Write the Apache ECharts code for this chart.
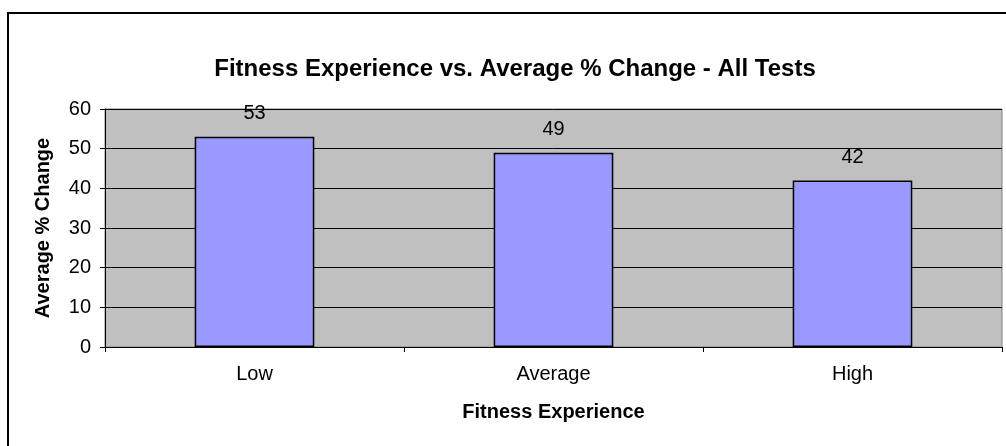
<!DOCTYPE html>
<html>
<head>
<meta charset="utf-8">
<script src="https://cdn.jsdelivr.net/npm/echarts@6/dist/echarts.min.js"></script>
<style>
  html, body { margin: 0; padding: 0; background: #fff; }
  #chart { width: 1006px; height: 446px; }
</style>
</head>
<body>
<div id="chart"></div>
<script>
// Average % change per fitness-experience group
const categories = ['Low', 'Average', 'High'];
const avgChange = [53, 49, 42];
const yTicks = { min: 0, max: 60, step: 10 };

const FONT = 'Arial, "Liberation Sans", sans-serif';

const chart = echarts.init(document.getElementById('chart'), null, { renderer: 'canvas' });

chart.setOption({
  backgroundColor: '#ffffff',
  animation: false,
  textStyle: { fontFamily: FONT },
  title: {
    text: 'Fitness Experience vs. Average % Change - All Tests',
    left: 510,
    textAlign: 'center',
    top: 52,
    textStyle: { fontFamily: FONT, fontSize: 24, fontWeight: 'bold', color: '#000' }
  },
  graphic: [{
    type: 'rect',
    shape: { x: 8, y: 13, width: 1020, height: 460 },
    style: { fill: 'none', stroke: '#000', lineWidth: 2 },
    silent: true,
    z: 100
  }],
  grid: {
    left: 105,
    right: 4,
    top: 109,
    bottom: 99,
    show: true,
    backgroundColor: '#C0C0C0',
    borderColor: '#808080',
    borderWidth: 1
  },
  xAxis: {
    type: 'category',
    data: categories,
    name: 'Fitness Experience',
    nameLocation: 'middle',
    nameGap: 55,
    nameTextStyle: { fontFamily: FONT, fontSize: 20, fontWeight: 'bold', color: '#000' },
    axisLine: { show: true, lineStyle: { color: '#000', width: 1 } },
    axisTick: { show: true, alignWithLabel: false, length: 5, lineStyle: { color: '#000' } },
    axisLabel: { fontFamily: FONT, fontSize: 20, color: '#000', margin: 17 },
    splitLine: { show: false }
  },
  yAxis: {
    type: 'value',
    min: yTicks.min,
    max: yTicks.max,
    interval: yTicks.step,
    name: 'Average % Change',
    nameLocation: 'middle',
    nameRotate: 90,
    nameGap: 52,
    nameTextStyle: { fontFamily: FONT, fontSize: 20, fontWeight: 'bold', color: '#000' },
    axisLine: { show: true, lineStyle: { color: '#000', width: 1 } },
    axisTick: { show: true, length: 5, lineStyle: { color: '#000' } },
    axisLabel: { fontFamily: FONT, fontSize: 20, color: '#000', margin: 14 },
    splitLine: { show: true, lineStyle: { color: '#000', width: 1 } }
  },
  series: [{
    type: 'bar',
    data: avgChange,
    barWidth: '40%',
    itemStyle: { color: '#9999FF', borderColor: '#000', borderWidth: 1.5 },
    label: {
      show: true,
      position: 'top',
      distance: 13,
      fontFamily: FONT,
      fontSize: 20,
      color: '#000'
    }
  }]
});
</script>
</body>
</html>
